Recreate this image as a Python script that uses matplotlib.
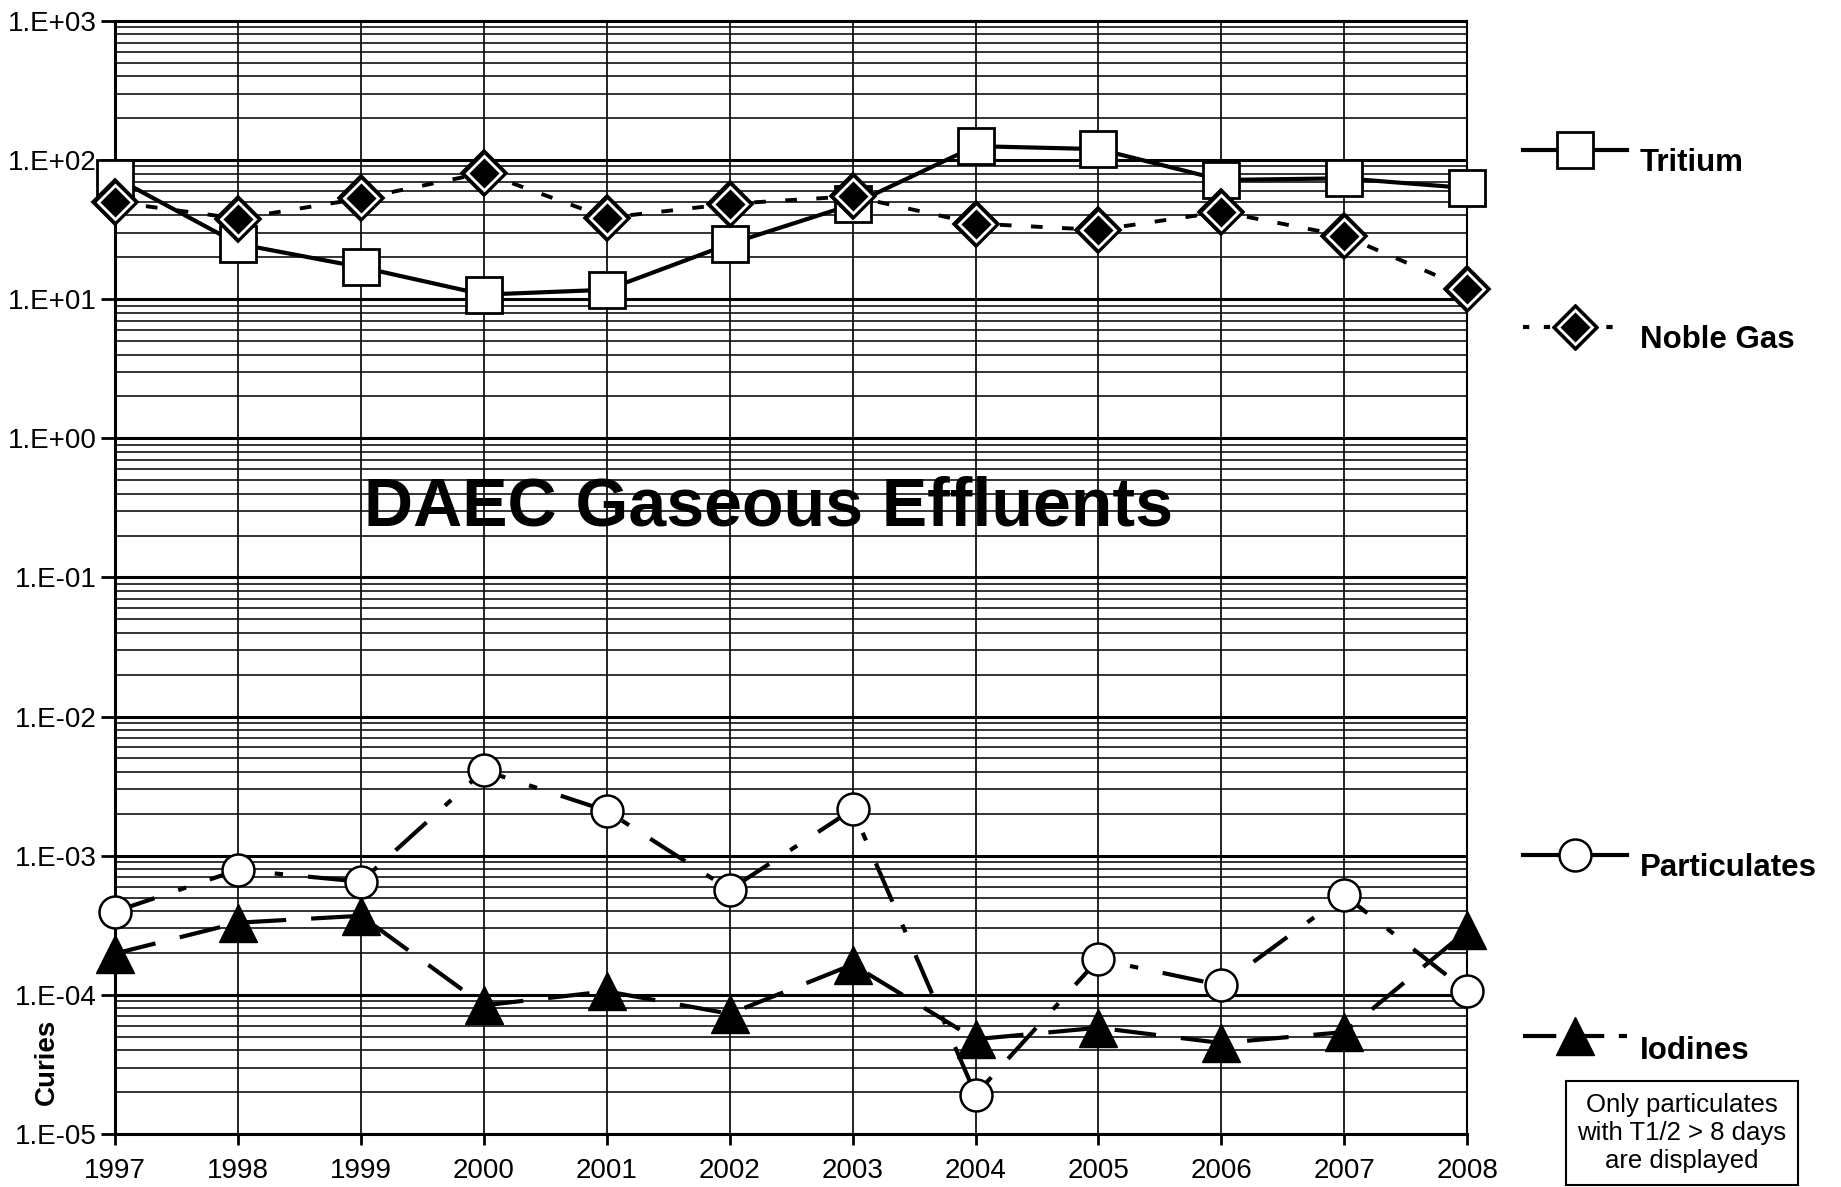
import matplotlib
matplotlib.use("Agg")
import matplotlib.pyplot as plt
from matplotlib.lines import Line2D
from matplotlib.ticker import LogLocator, FixedLocator, NullFormatter
import numpy as np

plt.rcParams['font.family'] = ['Liberation Sans', 'DejaVu Sans']

years = [1997, 1998, 1999, 2000, 2001, 2002, 2003, 2004, 2005, 2006, 2007, 2008]
tritium = [75, 25, 17, 10.8, 11.7, 25, 48, 126, 120, 72, 74, 63]
noble_gas = [50, 38, 53, 81, 38.5, 48.5, 55, 35, 31.5, 42.5, 28.5, 11.9]
particulates = [3.97e-4, 7.9e-4, 6.5e-4, 4.1e-3, 2.1e-3, 5.7e-4, 2.15e-3,
                1.92e-5, 1.8e-4, 1.17e-4, 5.2e-4, 1.06e-4]
iodines = [1.98e-4, 3.3e-4, 3.7e-4, 8.4e-5, 1.06e-4, 7.3e-5, 1.65e-4,
           4.8e-5, 5.8e-5, 4.5e-5, 5.4e-5, 2.9e-4]
ytick_vals = [1e-5, 1e-4, 1e-3, 1e-2, 1e-1, 1e0, 1e1, 1e2, 1e3]
ytick_labels = ['1.E-05', '1.E-04', '1.E-03', '1.E-02', '1.E-01',
                '1.E+00', '1.E+01', '1.E+02', '1.E+03']
series_names = ['Tritium', 'Noble Gas', 'Particulates', 'Iodines']
title_text = 'DAEC Gaseous Effluents'
ylabel_text = 'Curies'
note_text = 'Only particulates\nwith T1/2 > 8 days\nare displayed'

fig = plt.figure(figsize=(18.41, 11.87), dpi=100)
ax = fig.add_axes([0.0625, 0.0447, 0.7345, 0.9376])
ax.set_yscale('log')
ax.set_xlim(years[0], years[-1])
ax.set_ylim(ytick_vals[0], ytick_vals[-1])

# grid
ax.yaxis.set_major_locator(FixedLocator(ytick_vals))
ax.yaxis.set_minor_locator(LogLocator(base=10, subs=np.arange(2, 10)))
ax.yaxis.set_minor_formatter(NullFormatter())
ax.set_yticks(ytick_vals)
ax.set_yticklabels(ytick_labels)
ax.set_xticks(years)
ax.set_xticklabels([str(y) for y in years])
ax.grid(which='major', axis='y', color='black', linewidth=2.2)
ax.grid(which='minor', axis='y', color='#111111', linewidth=1.2)
ax.grid(which='major', axis='x', color='#111111', linewidth=1.3)
ax.tick_params(axis='y', which='major', direction='out', length=10, width=2,
               labelsize=20, pad=3)
ax.tick_params(axis='y', which='minor', length=0)
ax.tick_params(axis='x', which='major', direction='out', length=8, width=2,
               labelsize=20, pad=9)
for s in ['left', 'bottom']:
    ax.spines[s].set_linewidth(2.2)
for s in ['right', 'top']:
    ax.spines[s].set_linewidth(1.5)
ax.set_axisbelow(True)

# series
ax.plot(years, tritium, color='black', linestyle='-', linewidth=3,
        marker='s', markersize=26, markerfacecolor='white',
        markeredgecolor='black', markeredgewidth=2, zorder=4, clip_on=False)
ax.plot(years, noble_gas, color='black', linestyle=(0, (3, 5)), linewidth=2.8,
        zorder=3)
ax.plot(years, noble_gas, linestyle='none', marker='D', markersize=23,
        markerfacecolor='black', markeredgecolor='black', markeredgewidth=1.5,
        zorder=4, clip_on=False)
ax.plot(years, noble_gas, linestyle='none', marker='D', markersize=17,
        markerfacecolor='black', markeredgecolor='white', markeredgewidth=2,
        zorder=5, clip_on=False)
ax.plot(years, particulates, color='black', linestyle=(0, (10, 6, 2, 6)),
        linewidth=3, marker='o', markersize=23, markerfacecolor='white',
        markeredgecolor='black', markeredgewidth=1.8, zorder=4, clip_on=False)
ax.plot(years, iodines, color='black', linestyle=(0, (10, 6)), linewidth=3,
        marker='^', markersize=27, markerfacecolor='black',
        markeredgecolor='black', markeredgewidth=1, zorder=4, clip_on=False)

# title inside plot
fig.text(769 / 1841, 1 - 508 / 1187, title_text, ha='center',
         va='center', fontsize=49, fontweight='bold', zorder=6)

# y label
fig.text(47 / 1841, 1 - 1062 / 1187, ylabel_text, rotation=90, ha='center',
         va='center', fontsize=20, fontweight='bold')

# legend (custom, figure coordinates)
leg_y = [150, 327, 855, 1036]
leg_text_y = [163, 340, 868, 1051]
styles = [
    dict(linestyle='-', marker='s', markersize=26, markerfacecolor='white',
         markeredgecolor='black', markeredgewidth=2),
    dict(linestyle=(0, (1.5, 3.5)), marker='D', markersize=17,
         markerfacecolor='black', markeredgecolor='white', markeredgewidth=2),
    dict(linestyle='-', marker='o', markersize=23,
         markerfacecolor='white', markeredgecolor='black', markeredgewidth=1.8),
    dict(linestyle=(0, (8, 3.5)), marker='^', markersize=27,
         markerfacecolor='black', markeredgecolor='black'),
]
x0, x1 = 1523 / 1841, 1627 / 1841
xm = (x0 + x1) / 2
for name, ly, ty, st in zip(series_names, leg_y, leg_text_y, styles):
    yy = 1 - ly / 1187
    fig.add_artist(Line2D([x0, x1], [yy, yy], color='black', linewidth=3,
                          linestyle=st['linestyle']))
    if st['marker'] == 'D':
        fig.add_artist(Line2D([xm], [yy], marker='D', markersize=23,
                              markerfacecolor='black', markeredgecolor='black',
                              linestyle='none'))
    fig.add_artist(Line2D([xm], [yy], marker=st['marker'],
                          markersize=st['markersize'],
                          markerfacecolor=st['markerfacecolor'],
                          markeredgecolor=st['markeredgecolor'],
                          markeredgewidth=st.get('markeredgewidth', 1),
                          linestyle='none'))
    fig.text(1640 / 1841, 1 - ty / 1187, name, ha='left', va='center',
             fontsize=22.5, fontweight='bold')

# note box
fig.text(1682 / 1841, 1 - 1133 / 1187, note_text, ha='center', va='center',
         fontsize=18.5, linespacing=1.22,
         bbox=dict(boxstyle='square,pad=0.45', facecolor='white',
                   edgecolor='black', linewidth=1.5))

fig.savefig('out.png', dpi=100)
